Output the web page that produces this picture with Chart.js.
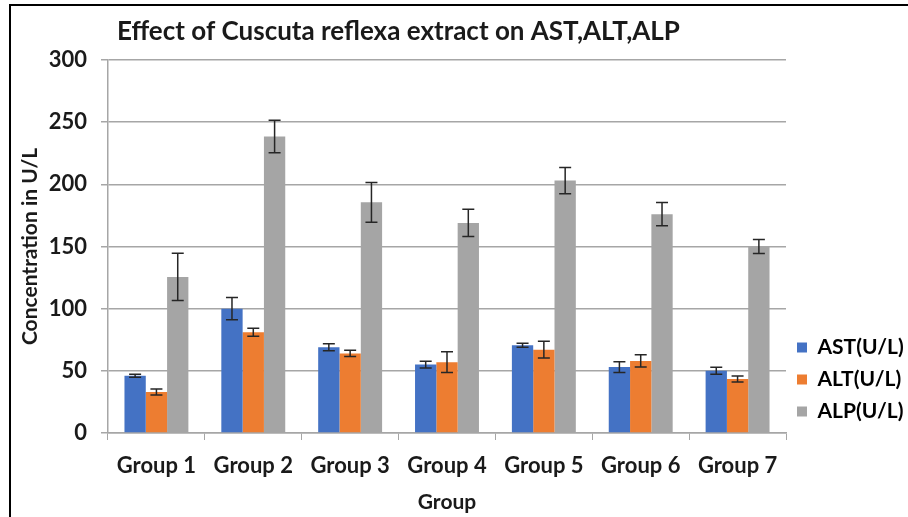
<!DOCTYPE html>
<html>
<head>
<meta charset="utf-8">
<script src="https://cdn.jsdelivr.net/npm/chart.js@4/dist/chart.umd.min.js"></script>
<style>
  html, body { margin: 0; padding: 0; background: #fff; }
  #wrap { width: 908px; height: 517px; position: relative; }
</style>
</head>
<body>
<div id="wrap"><canvas id="c" width="908" height="517"></canvas></div>
<script>
const categories = ['Group 1', 'Group 2', 'Group 3', 'Group 4', 'Group 5', 'Group 6', 'Group 7'];
const astValues = [46, 100, 69, 55, 70.5, 53, 50];
const astErrors = [1.2, 9, 2.8, 2.7, 1.6, 4.4, 2.8];
const altValues = [33, 81, 64, 57, 67, 58, 43.5];
const altErrors = [2.4, 3.2, 2.5, 8.4, 6.7, 4.9, 2.4];
const alpValues = [125.5, 238.5, 185.5, 169, 203, 176, 150];
const alpErrors = [19, 13, 16, 11, 10.5, 9.4, 5.7];
const seriesNames = ['AST(U/L)', 'ALT(U/L)', 'ALP(U/L)'];
const chartTitle = 'Effect of Cuscuta reflexa extract on AST,ALT,ALP';
const yTitle = 'Concentration in U/L';
const xTitle = 'Group';

const FONT = 'Lato, "Open Sans", sans-serif';

const errorBars = {
  id: 'errorBars',
  afterDatasetsDraw(chart) {
    const ctx = chart.ctx;
    const y = chart.scales.y;
    ctx.save();
    ctx.strokeStyle = '#262626';
    ctx.lineWidth = 1.5;
    chart.data.datasets.forEach((ds, di) => {
      const meta = chart.getDatasetMeta(di);
      meta.data.forEach((bar, i) => {
        const v = ds.data[i], e = ds.errors[i];
        const x = bar.x;
        const yt = y.getPixelForValue(v + e);
        const yb = y.getPixelForValue(v - e);
        ctx.beginPath();
        ctx.moveTo(x, yt); ctx.lineTo(x, yb);
        ctx.moveTo(x - 6, yt); ctx.lineTo(x + 6, yt);
        ctx.moveTo(x - 6, yb); ctx.lineTo(x + 6, yb);
        ctx.stroke();
      });
    });
    ctx.restore();
  }
};

const frameAndTitle = {
  id: 'frameAndTitle',
  beforeDraw(chart) {
    const ctx = chart.ctx;
    ctx.save();
    ctx.fillStyle = '#fff';
    ctx.fillRect(0, 0, chart.width, chart.height);
    ctx.strokeStyle = '#000';
    ctx.lineWidth = 2;
    ctx.beginPath();
    ctx.moveTo(10, 517); ctx.lineTo(10, 5); ctx.lineTo(908, 5);
    ctx.stroke();
    ctx.restore();
  },
  afterDraw(chart) {
    const ctx = chart.ctx;
    ctx.save();
    ctx.fillStyle = '#1a1a1a';
    ctx.font = 'bold 26px ' + FONT;
    ctx.textBaseline = 'middle';
    ctx.textAlign = 'left';
    ctx.fillText(chartTitle, 117, 32);
    ctx.restore();
  }
};

new Chart(document.getElementById('c'), {
  type: 'bar',
  data: {
    labels: categories,
    datasets: [
      { label: seriesNames[0], data: astValues, errors: astErrors, backgroundColor: '#4472C4' },
      { label: seriesNames[1], data: altValues, errors: altErrors, backgroundColor: '#ED7D31' },
      { label: seriesNames[2], data: alpValues, errors: alpErrors, backgroundColor: '#A5A5A5' }
    ]
  },
  options: {
    responsive: false,
    animation: false,
    devicePixelRatio: 1,
    layout: { padding: { left: 18, top: 60, right: 0, bottom: 2 } },
    datasets: { bar: { barPercentage: 1, categoryPercentage: 0.66 } },
    plugins: {
      title: { display: false },
      tooltip: { enabled: false },
      legend: {
        position: 'right',
        align: 'end',
        fullSize: false,
        maxWidth: 122,
        labels: {
          boxWidth: 10, boxHeight: 10, padding: 11,
          color: '#000',
          font: { family: FONT, size: 21, weight: 'bold' }
        }
      }
    },
    scales: {
      x: {
        afterFit: (s) => { s.height = 82; },
        grid: { display: true, drawOnChartArea: false, drawTicks: true, tickLength: 7, color: '#a6a6a6', offset: true },
        border: { color: '#a6a6a6', width: 1.5 },
        ticks: { color: '#1a1a1a', font: { family: FONT, size: 22, weight: 'bold' }, padding: 13, maxRotation: 0 },
        title: { display: true, text: xTitle, color: '#1a1a1a', font: { family: FONT, size: 21, weight: 'bold' }, padding: { top: 0, bottom: 0 } }
      },
      y: {
        min: 0, max: 300,
        afterFit: (s) => { s.width = 90; },
        ticks: { stepSize: 50, color: '#1a1a1a', font: { family: FONT, size: 22, weight: 'bold' }, padding: 14 },
        grid: { color: '#a6a6a6', lineWidth: 1.5, tickLength: 7 },
        border: { color: '#a6a6a6', width: 1.5 },
        title: { display: true, text: yTitle, color: '#1a1a1a', font: { family: FONT, size: 21, weight: 'bold' }, padding: { top: 0, bottom: 4 } }
      }
    }
  },
  plugins: [frameAndTitle, errorBars]
});
</script>
</body>
</html>
